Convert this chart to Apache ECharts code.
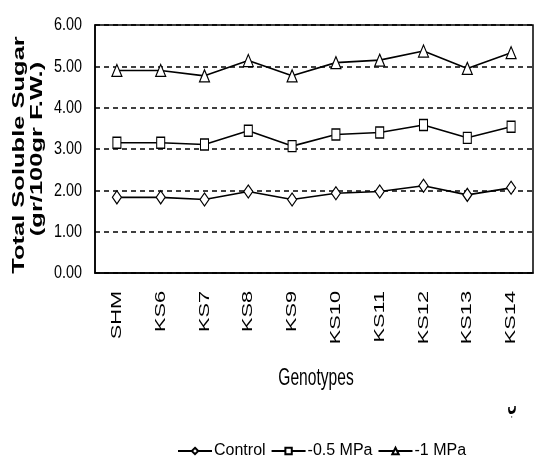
<!DOCTYPE html>
<html>
<head>
<meta charset="utf-8">
<script src="https://cdn.jsdelivr.net/npm/echarts@6/dist/echarts.min.js"></script>
<style>
  html, body { margin: 0; padding: 0; background: #fff; }
  #chart { width: 535px; height: 458px; }
</style>
</head>
<body>
<div id="chart"></div>
<script>
// Genotypes on the category axis
const genotypes = ['SHM', 'KS6', 'KS7', 'KS8', 'KS9', 'KS10', 'KS11', 'KS12', 'KS13', 'KS14'];

// Total soluble sugar (gr/100gr F.W.) for each drought treatment
const control = [1.83, 1.83, 1.78, 1.97, 1.78, 1.93, 1.97, 2.11, 1.89, 2.06];
const mpa05   = [3.15, 3.15, 3.11, 3.44, 3.07, 3.35, 3.40, 3.58, 3.27, 3.54];
const mpa1    = [4.90, 4.90, 4.77, 5.14, 4.77, 5.09, 5.15, 5.37, 4.95, 5.33];

const seriesNames = ['Control', '-0.5 MPa', '-1 MPa'];
const yTicks = [0, 1, 2, 3, 4, 5, 6];

const SANS = '"Liberation Sans", Arial, sans-serif';

const chart = echarts.init(document.getElementById('chart'), null, { renderer: 'canvas' });

function lineSeries(name, data, symbol, size) {
  return {
    name: name,
    type: 'line',
    data: data,
    symbol: symbol,
    symbolSize: size,
    showSymbol: true,
    lineStyle: { color: '#000', width: 1.6 },
    itemStyle: { color: '#fff', borderColor: '#000', borderWidth: 1.2 },
    emphasis: { disabled: true },
    z: 3
  };
}

chart.setOption({
  animation: false,
  backgroundColor: '#fff',
  grid: {
    left: 95, right: 2, top: 25, bottom: 185,
    show: true, borderColor: '#000', borderWidth: 1.5, backgroundColor: 'transparent'
  },
  xAxis: {
    type: 'category',
    data: genotypes,
    boundaryGap: true,
    axisLine: { show: true, lineStyle: { color: '#000', width: 1.5 } },
    axisTick: { show: false },
    axisLabel: { show: false },
    splitLine: { show: false }
  },
  yAxis: {
    type: 'value',
    min: yTicks[0],
    max: yTicks[yTicks.length - 1],
    interval: 1,
    axisLine: { show: true, lineStyle: { color: '#000', width: 1.5 } },
    axisTick: { show: false },
    axisLabel: { show: false },
    splitLine: { show: true, lineStyle: { color: '#000', width: 1.6, type: [5, 4] } }
  },
  legend: {
    data: seriesNames,
    left: 172,
    top: 438,
    itemWidth: 34,
    itemHeight: 8,
    itemGap: 5,
    textStyle: { color: '#000', fontFamily: SANS, fontSize: 16, padding: [0, 0, 0, -3] }
  },
  series: [
    lineSeries(seriesNames[0], control, 'diamond', [9, 13]),
    lineSeries(seriesNames[1], mpa05, 'rect', [8, 11]),
    lineSeries(seriesNames[2], mpa1, 'triangle', [10, 12])
  ]
});

const graphics = [];

// Value-axis tick labels, condensed to the axis' narrow face
yTicks.forEach(v => {
  const py = chart.convertToPixel({ yAxisIndex: 0 }, v);
  graphics.push({
    type: 'text', x: 82, y: py, scaleX: 0.8, scaleY: 1.05,
    style: { text: v.toFixed(2), fill: '#000', font: '18px ' + SANS, align: 'right', verticalAlign: 'middle' }
  });
});

// Genotype labels, rotated to read upward and stretched along their run
genotypes.forEach(g => {
  const px = chart.convertToPixel({ xAxisIndex: 0 }, g);
  graphics.push({
    type: 'text', x: px, y: 291, rotation: Math.PI / 2, scaleX: 1.45,
    style: { text: g, fill: '#000', font: '15px ' + SANS, align: 'right', verticalAlign: 'middle' }
  });
});

graphics.push(
  {
    type: 'text', x: 19, y: 155, rotation: Math.PI / 2, scaleX: 1.5,
    style: { text: 'Total Soluble Sugar', fill: '#000', font: 'bold 17px ' + SANS, align: 'center', verticalAlign: 'middle' }
  },
  {
    type: 'text', x: 37, y: 149, rotation: Math.PI / 2, scaleX: 1.5,
    style: { text: '(gr/100gr F.W.)', fill: '#000', font: 'bold 17px ' + SANS, align: 'center', verticalAlign: 'middle' }
  },
  {
    type: 'text', x: 316, y: 378, scaleX: 0.82, scaleY: 1.3,
    style: { text: 'Genotypes', fill: '#000', font: '19px ' + SANS, align: 'center', verticalAlign: 'middle' }
  },
  {
    type: 'text', x: 512, y: 408, scaleX: 0.5, scaleY: 1.3,
    style: { text: 'ب', fill: '#000', font: 'bold 18px "DejaVu Sans", sans-serif', align: 'center', verticalAlign: 'middle' }
  }
);

chart.setOption({ graphic: graphics });
</script>
</body>
</html>
